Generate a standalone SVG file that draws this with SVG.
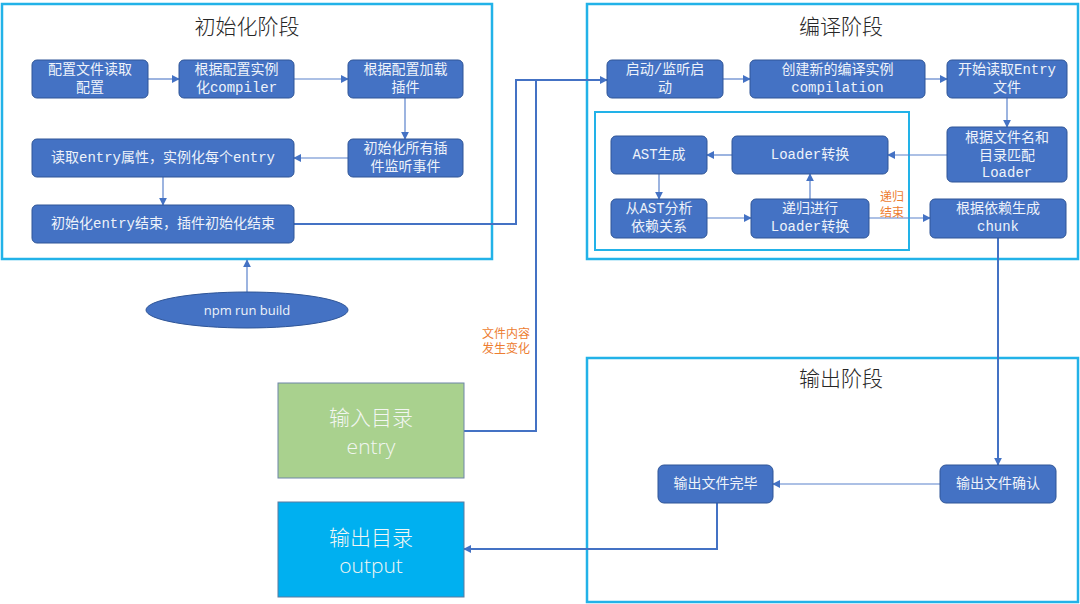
<svg xmlns="http://www.w3.org/2000/svg" width="1080" height="604" viewBox="0 0 1080 604">
<defs>
<style>
.panel{fill:#fff;stroke:#22b2e8;stroke-width:2.5}
.inner{fill:none;stroke:#22b2e8;stroke-width:2}
.node{fill:#4472c4;stroke:#2f5597;stroke-width:1}
.nt{font-family:"Liberation Mono","Noto Sans CJK SC",monospace;font-size:14px;fill:#eef2fa;text-anchor:middle;dominant-baseline:central}
.title{font-family:"Noto Sans CJK SC",sans-serif;font-size:21px;fill:#262626;text-anchor:middle;dominant-baseline:central;font-weight:300}
.big{font-family:"Open Sans","Noto Sans CJK SC",sans-serif;font-size:21px;fill:#f2f6f2;text-anchor:middle;dominant-baseline:central;font-weight:300}
.lbl{font-family:"Noto Sans CJK SC",sans-serif;font-size:12px;fill:#ed7d31;text-anchor:middle;dominant-baseline:central}
.c{fill:none;stroke:#5b82cc;stroke-width:1.2}
.cm{fill:none;stroke:#4472c4;stroke-width:2}
</style>
<marker id="arr" viewBox="0 0 10 10" refX="9" refY="5" markerWidth="8" markerHeight="8" markerUnits="userSpaceOnUse" orient="auto">
<path d="M0,0 L10,5 L0,10 z" fill="#4472c4"/>
</marker>
</defs>
<rect width="1080" height="604" fill="#fff"/>

<g id="panel-init">
<rect class="panel" x="2" y="4" width="490" height="255"/>
<text class="title" x="247" y="25">初始化阶段</text>
</g>
<g id="panel-compile">
<rect class="panel" x="587" y="4" width="491" height="255"/>
<text class="title" x="841" y="25">编译阶段</text>
<rect class="inner" x="595" y="112" width="314" height="138"/>
</g>
<g id="panel-output">
<rect class="panel" x="587" y="358" width="491" height="244"/>
<text class="title" x="841" y="377">输出阶段</text>
</g>

<g id="connectors">
<path class="c" d="M148,79 H179" marker-end="url(#arr)"/>
<path class="c" d="M294,79 H348" marker-end="url(#arr)"/>
<path class="c" d="M405,98 V139" marker-end="url(#arr)"/>
<path class="c" d="M348,158 H294" marker-end="url(#arr)"/>
<path class="c" d="M163,177 V205" marker-end="url(#arr)"/>
<path class="cm" d="M294,224 H516 V80 H607" marker-end="url(#arr)"/>
<path class="cm" d="M464,431 H536 V80"/>
<path class="c" d="M247,292 V260" marker-end="url(#arr)"/>
<path class="c" d="M723,79 H750" marker-end="url(#arr)"/>
<path class="c" d="M925,79 H947" marker-end="url(#arr)"/>
<path class="c" d="M1007,98 V127" marker-end="url(#arr)"/>
<path class="c" d="M947,155 H888" marker-end="url(#arr)"/>
<path class="c" d="M732,155 H707" marker-end="url(#arr)"/>
<path class="c" d="M659,174 V199" marker-end="url(#arr)"/>
<path class="c" d="M707,218 H751" marker-end="url(#arr)"/>
<path class="c" d="M810,199 V174" marker-end="url(#arr)"/>
<path class="c" d="M869,218 H930" marker-end="url(#arr)"/>
<path class="cm" d="M998,238 V465" marker-end="url(#arr)"/>
<path class="c" d="M940,484 H773" marker-end="url(#arr)"/>
<path class="cm" d="M717,503 V549 H464" marker-end="url(#arr)"/>
<text class="lbl" x="892" y="195">递归</text>
<text class="lbl" x="892" y="211">结束</text>
<text class="lbl" x="506" y="332">文件内容</text>
<text class="lbl" x="506" y="347">发生变化</text>
</g>

<g id="n-read-config">
<rect class="node" x="32" y="60" width="116" height="38" rx="5"/>
<text class="nt" x="90" y="70">配置文件读取</text>
<text class="nt" x="90" y="88">配置</text>
</g>
<g id="n-compiler">
<rect class="node" x="179" y="60" width="115" height="38" rx="5"/>
<text class="nt" x="236.5" y="70">根据配置实例</text>
<text class="nt" x="236.5" y="88">化compiler</text>
</g>
<g id="n-load-plugins">
<rect class="node" x="348" y="60" width="115" height="38" rx="5"/>
<text class="nt" x="405.5" y="70">根据配置加载</text>
<text class="nt" x="405.5" y="88">插件</text>
</g>
<g id="n-init-plugins">
<rect class="node" x="348" y="139" width="115" height="38" rx="5"/>
<text class="nt" x="405.5" y="149">初始化所有插</text>
<text class="nt" x="405.5" y="167">件监听事件</text>
</g>
<g id="n-read-entry">
<rect class="node" x="32" y="139" width="262" height="38" rx="5"/>
<text class="nt" x="163" y="158">读取entry属性，实例化每个entry</text>
</g>
<g id="n-init-end">
<rect class="node" x="32" y="205" width="262" height="38" rx="5"/>
<text class="nt" x="163" y="224">初始化entry结束，插件初始化结束</text>
</g>
<g id="n-npm">
<ellipse cx="247" cy="310" rx="101" ry="18" fill="#4472c4" stroke="#2f5597" stroke-width="1"/>
<text x="247" y="310" font-family="'Open Sans','Noto Sans',sans-serif" font-size="13" fill="#eef2fa" text-anchor="middle" dominant-baseline="central">npm run build</text>
</g>

<g id="n-start">
<rect class="node" x="607" y="60" width="116" height="38" rx="5"/>
<text class="nt" x="665" y="70">启动/监听启</text>
<text class="nt" x="665" y="88">动</text>
</g>
<g id="n-compilation">
<rect class="node" x="750" y="60" width="175" height="38" rx="5"/>
<text class="nt" x="837.5" y="70">创建新的编译实例</text>
<text class="nt" x="837.5" y="88">compilation</text>
</g>
<g id="n-read-entry-file">
<rect class="node" x="947" y="60" width="120" height="38" rx="5"/>
<text class="nt" x="1007" y="70">开始读取Entry</text>
<text class="nt" x="1007" y="88">文件</text>
</g>
<g id="n-match-loader">
<rect class="node" x="947" y="127" width="120" height="55" rx="5"/>
<text class="nt" x="1007" y="138">根据文件名和</text>
<text class="nt" x="1007" y="156">目录匹配</text>
<text class="nt" x="1007" y="173">Loader</text>
</g>
<g id="n-loader">
<rect class="node" x="732" y="136" width="156" height="38" rx="5"/>
<text class="nt" x="810" y="155">Loader转换</text>
</g>
<g id="n-ast">
<rect class="node" x="611" y="136" width="96" height="38" rx="5"/>
<text class="nt" x="659" y="155">AST生成</text>
</g>
<g id="n-deps">
<rect class="node" x="611" y="199" width="96" height="39" rx="5"/>
<text class="nt" x="659" y="209">从AST分析</text>
<text class="nt" x="659" y="227">依赖关系</text>
</g>
<g id="n-recursive">
<rect class="node" x="751" y="199" width="118" height="39" rx="5"/>
<text class="nt" x="810" y="209">递归进行</text>
<text class="nt" x="810" y="227">Loader转换</text>
</g>
<g id="n-chunk">
<rect class="node" x="930" y="199" width="136" height="39" rx="5"/>
<text class="nt" x="998" y="209">根据依赖生成</text>
<text class="nt" x="998" y="227">chunk</text>
</g>

<g id="n-out-confirm">
<rect class="node" x="940" y="465" width="116" height="38" rx="6"/>
<text class="nt" x="998" y="484">输出文件确认</text>
</g>
<g id="n-out-done">
<rect class="node" x="658" y="465" width="115" height="38" rx="6"/>
<text class="nt" x="715.5" y="484">输出文件完毕</text>
</g>

<g id="n-input-dir">
<rect x="278" y="383" width="186" height="95" fill="#a9d18e" stroke="#6f86a8" stroke-width="1"/>
<text class="big" x="371" y="417">输入目录</text>
<text class="big" x="371" y="446">entry</text>
</g>
<g id="n-output-dir">
<rect x="278" y="502" width="186" height="95" fill="#00b0f0" stroke="#5a7ba0" stroke-width="1"/>
<text class="big" x="371" y="537">输出目录</text>
<text class="big" x="371" y="565">output</text>
</g>
</svg>
